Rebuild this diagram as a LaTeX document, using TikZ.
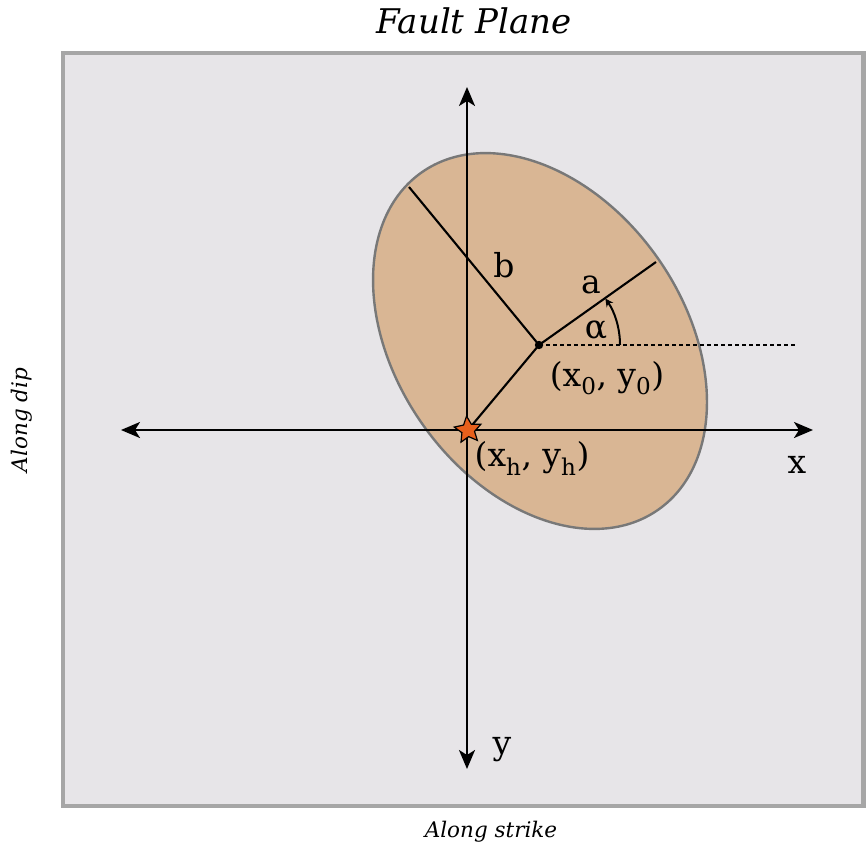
\documentclass[tikz,border=0pt]{standalone}
\usepackage{fontspec}
\setmainfont{DejaVu Serif}
\usetikzlibrary{arrows.meta,shapes.geometric,calc}
\definecolor{planefill}{RGB}{231,229,232}
\definecolor{planeedge}{RGB}{166,166,166}
\definecolor{ellfill}{RGB}{217,182,148}
\definecolor{elledge}{RGB}{120,120,120}
\definecolor{starfill}{RGB}{232,96,28}
\begin{document}
\begin{tikzpicture}[x=1pt,y=-1pt,
  axis/.style={line width=2.2pt,{Stealth[length=19pt,width=16pt,inset=5pt]}-{Stealth[length=19pt,width=16pt,inset=5pt]}},
  rad/.style={line width=2.1pt},
  lbl/.style={font=\fontsize{33}{36}\selectfont,inner sep=0pt},
  captext/.style={font=\fontsize{21.5}{24}\selectfont\itshape,inner sep=0pt},
  epic/.style={star,star points=5,star point ratio=2.1,minimum size=28pt,inner sep=0pt,fill=starfill,draw=black,line width=1.2pt,rotate=6}]
\useasboundingbox (0,0) rectangle (866,851);
% fault plane box
\draw[fill=planefill,draw=planeedge,line width=4.5pt] (63,53) rectangle (863.5,806);
% rupture ellipse
\coordinate (c) at (540,341);
\draw[fill=ellfill,draw=elledge,line width=2.4pt,rotate around={35:(c)}] (c) ellipse [x radius=144pt,y radius=206pt];
% coordinates
\coordinate (o) at (539,345);
\coordinate (hc) at (468,430);
\coordinate (aend) at (656,262);
\coordinate (bend) at (409,187);
\coordinate (dashend) at (797,345);
\coordinate (xl) at (121,430);
\coordinate (xr) at (813,430);
\coordinate (yt) at (467,87);
\coordinate (yb) at (467,769);
% axes
\draw[axis] (xl) -- (xr);
\draw[axis] (yt) -- (yb);
% radii
\draw[rad] (hc) -- (o);
\draw[rad] (o) -- (aend);
\draw[rad] (o) -- (bend);
\node[epic] (h) at (hc) {};
\draw[line width=1.3pt,dash pattern=on 4pt off 3pt] (o) -- (dashend);
\fill (o) circle (4.2pt);
% angle
\draw[line width=2pt,-{Stealth[length=8pt,width=8pt]}] ($(o)+(81,0)$) arc[start angle=0,end angle=35,radius=81pt];
% labels
\node[lbl] (lb) at (504,265) {b};
\node[lbl] (la) at (591,285) {a};
\node[lbl] (lal) at (596,330) {α};
\node[lbl] (lc) at (607,378) {(x\textsubscript{0}, y\textsubscript{0})};
\node[lbl] (lh) at (532,458) {(x\textsubscript{h}, y\textsubscript{h})};
\node[lbl] (lx) at (797,465) {x};
\node[lbl] (ly) at (502,750) {y};
\node[font=\fontsize{34}{38}\selectfont\itshape,inner sep=0pt] (title) at (474,21) {Fault Plane};
\node[captext,rotate=90] (dip) at (22,420) {Along dip};
\node[captext] (strike) at (491,832) {Along strike};
\end{tikzpicture}
\end{document}
